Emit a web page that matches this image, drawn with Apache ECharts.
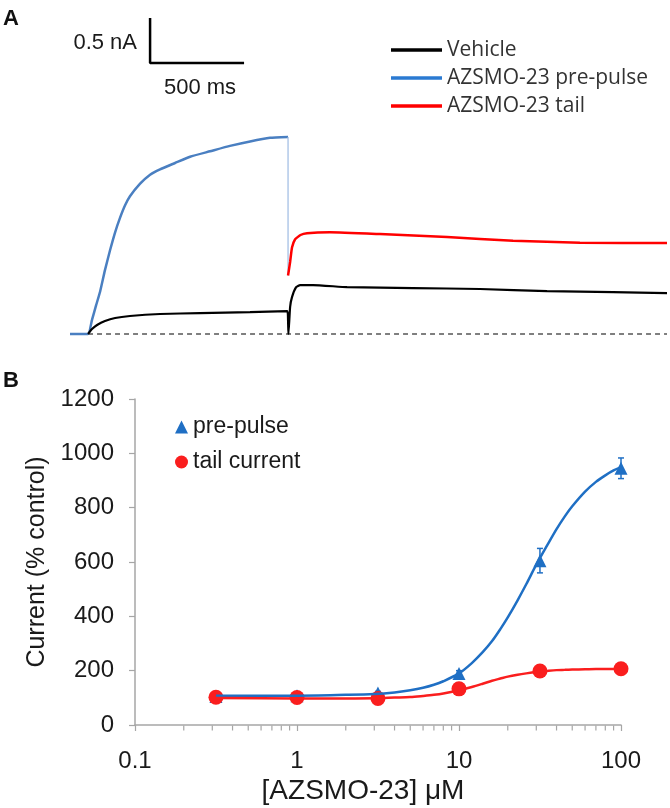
<!DOCTYPE html>
<html><head><meta charset="utf-8">
<script src="https://cdn.jsdelivr.net/npm/echarts@6/dist/echarts.min.js"></script>
<style>html,body{margin:0;padding:0;background:#fff}#c{width:670px;height:808px}</style>
</head><body><div id="c"></div>
<script>
// ---------- Panel A: current traces (time in ms, current in nA) ----------
const vehicleT = [0, 21, 48, 90, 144, 223, 383, 596, 862, 1060, 1064, 1066, 1075, 1085, 1107, 1128, 1197, 1378, 1729, 2085, 2442, 2793, 3080];
const vehicleI = [0, 0.055, 0.1, 0.144, 0.178, 0.2, 0.222, 0.233, 0.244, 0.255, 0.15, 0.0, 0.3, 0.41, 0.52, 0.544, 0.544, 0.52, 0.51, 0.50, 0.477, 0.466, 0.455];
const preT = [-96, 0, 21, 43, 64, 90, 117, 144, 170, 197, 223, 277, 330, 383, 463, 543, 649, 755, 862, 968, 1064];
const preI = [0, 0, 0.156, 0.32, 0.47, 0.71, 0.93, 1.13, 1.29, 1.43, 1.53, 1.67, 1.77, 1.83, 1.90, 1.97, 2.03, 2.09, 2.14, 2.18, 2.19];
const dropT = [1064, 1064];
const dropI = [2.19, 0.65];
const tailT = [1064, 1075, 1085, 1101, 1130, 1165, 1287, 1553, 1910, 2261, 2617, 3080];
const tailI = [0.65, 0.8, 0.96, 1.05, 1.10, 1.12, 1.13, 1.11, 1.077, 1.035, 1.015, 1.01];
const baselineT = [0, 3080];
const scaleBarT0 = 330, scaleBarI0 = 3.01, scaleBarMs = 500, scaleBarNA = 0.5;

// ---------- Panel B: concentration-response ----------
const doses = [0.316, 1, 3.16, 10, 31.6, 100];
const prePulse = [105, 108, 118, 190, 605, 945];
const prePulseErr = [4, 4, 6, 10, 45, 38];
const tailCurrent = [102, 101, 98, 133, 199, 207];
const tailErr = [3, 3, 3, 6, 8, 8];
const fitDoses = [0.316, 1, 2, 3, 4, 5, 6, 7, 8, 10, 12, 14, 16, 18, 20, 23, 26, 30, 35, 40, 45, 50, 60, 70, 80, 90, 100];
const fitPre = [108, 108, 111, 114, 120, 128, 137, 148, 161, 190, 228, 268, 309, 353, 396, 459, 518, 590, 661, 721, 768, 805, 859, 895, 919, 937, 949];
const fitTail = [99, 98, 98, 98.5, 101, 103, 107, 111, 116, 128, 140, 152, 163, 171, 178, 185, 190, 195, 199, 202, 203, 204, 205, 206, 206, 206, 206];
const minorTicks = [0.2,0.3,0.4,0.5,0.6,0.7,0.8,0.9,2,3,4,5,6,7,8,9,20,30,40,50,60,70,80,90];

const zip = (a, b) => a.map((v, i) => [v, b[i]]);
const BLUE = '#1f6fc4', RED = '#fa1e1e';
const TRACE_BLUE = '#4a7fc1';
const txt = '#1a1a1a';
const F = 'Liberation Sans, Arial, sans-serif';

function errBars(color) {
  return function (params, api) {
    const lo = api.coord([api.value(0), api.value(1)]);
    const hi = api.coord([api.value(0), api.value(2)]);
    const w = 3;
    const st = { stroke: color, lineWidth: 1.5 };
    return { type: 'group', children: [
      { type: 'line', shape: { x1: lo[0], y1: lo[1], x2: hi[0], y2: hi[1] }, style: st },
      { type: 'line', shape: { x1: lo[0] - w, y1: lo[1], x2: lo[0] + w, y2: lo[1] }, style: st },
      { type: 'line', shape: { x1: hi[0] - w, y1: hi[1], x2: hi[0] + w, y2: hi[1] }, style: st }
    ]};
  };
}

const chart = echarts.init(document.getElementById('c'), null, { renderer: 'canvas' });
chart.setOption({
  backgroundColor: '#fff',
  animation: false,
  textStyle: { fontFamily: F },
  graphic: [
    { type: 'text', left: 3, top: 8, style: { text: 'A', font: 'bold 22px ' + F, fill: '#111' } },
    { type: 'text', left: 3, top: 370, style: { text: 'B', font: 'bold 22px ' + F, fill: '#111' } },
    { type: 'text', x: 137, y: 43, style: { text: '0.5 nA', font: '22px ' + F, fill: txt, align: 'right', verticalAlign: 'middle' } },
    { type: 'text', x: 200, y: 88, style: { text: '500 ms', font: '22px ' + F, fill: txt, align: 'center', verticalAlign: 'middle' } }
  ],
  legend: [
    {
      orient: 'vertical', left: 386, top: 34, itemGap: 6,
      icon: 'rect', itemWidth: 51, itemHeight: 3.5,
      textStyle: { fontFamily: 'Open Sans', fontSize: 21, color: '#333', lineHeight: 22 },
      data: [
        { name: 'Vehicle', itemStyle: { color: '#000' } },
        { name: 'AZSMO-23 pre-pulse', itemStyle: { color: '#2a7ad2' } },
        { name: 'AZSMO-23 tail', itemStyle: { color: '#ff0000' } }
      ]
    },
    {
      orient: 'vertical', left: 170, top: 410, itemGap: 11,
      itemWidth: 13, itemHeight: 13,
      textStyle: { fontFamily: F, fontSize: 23, color: txt, lineHeight: 24 },
      data: [
        { name: 'pre-pulse', icon: 'triangle' },
        { name: 'tail current', icon: 'circle' }
      ]
    }
  ],
  grid: [
    { left: 70, right: 3, top: 10, height: 333 },
    { left: 135, right: 49, top: 399, bottom: 83 }
  ],
  xAxis: [
    { gridIndex: 0, type: 'value', min: -96, max: 3080, show: false },
    {
      gridIndex: 1, type: 'log', logBase: 10, min: 0.1, max: 100,
      axisLine: { lineStyle: { color: '#a6a6a6', width: 1.5 } },
      axisTick: { show: true, length: 6, lineStyle: { color: '#a6a6a6', width: 1.2 } },
      splitLine: { show: false },
      axisLabel: { fontSize: 24, color: txt, margin: 24, fontFamily: F, formatter: v => String(+(+v).toPrecision(3)) },
      name: '[AZSMO-23] \u03bcM', nameLocation: 'middle', nameGap: 52,
      nameTextStyle: { fontSize: 28, color: txt, fontFamily: F, padding: [0, 30, 0, 0] }
    }
  ],
  yAxis: [
    { gridIndex: 0, type: 'value', min: -0.1, max: 3.6, show: false },
    {
      gridIndex: 1, type: 'value', min: 0, max: 1200, interval: 200,
      axisLine: { show: true, lineStyle: { color: '#a6a6a6', width: 1.5 } },
      axisTick: { show: true, length: 6, lineStyle: { color: '#a6a6a6', width: 1.2 } },
      splitLine: { show: false },
      axisLabel: { fontSize: 24, color: txt, margin: 21, fontFamily: F, formatter: v => String(v) },
      name: 'Current (% control)', nameLocation: 'middle', nameGap: 82,
      nameTextStyle: { fontSize: 25, color: txt, fontFamily: F }
    }
  ],
  series: [
    // Panel A
    { name: 'baseline', type: 'line', xAxisIndex: 0, yAxisIndex: 0, data: zip(baselineT, [0, 0]), symbol: 'none',
      lineStyle: { color: '#555', width: 1.5, type: [5, 4] }, silent: true },
    { name: 'AZSMO-23 pre-pulse', type: 'line', xAxisIndex: 0, yAxisIndex: 0, data: zip(preT, preI), symbol: 'none', smooth: 0.15,
      lineStyle: { color: TRACE_BLUE, width: 2.5 }, itemStyle: { color: TRACE_BLUE } },
    { name: 'drop', type: 'line', xAxisIndex: 0, yAxisIndex: 0, data: zip(dropT, dropI), symbol: 'none',
      lineStyle: { color: '#9dbbe3', width: 1.2 } },
    { name: 'AZSMO-23 tail', type: 'line', xAxisIndex: 0, yAxisIndex: 0, data: zip(tailT, tailI), symbol: 'none', smooth: 0.15,
      lineStyle: { color: '#ff0000', width: 2.5 }, itemStyle: { color: '#ff0000' } },
    { name: 'Vehicle', type: 'line', xAxisIndex: 0, yAxisIndex: 0, data: zip(vehicleT, vehicleI), symbol: 'none', smooth: 0.15,
      lineStyle: { color: '#000', width: 2.2 }, itemStyle: { color: '#000' } },
    { name: 'scalebar', type: 'line', xAxisIndex: 0, yAxisIndex: 0, symbol: 'none',
      data: [[scaleBarT0, scaleBarI0 + scaleBarNA], [scaleBarT0, scaleBarI0], [scaleBarT0 + scaleBarMs, scaleBarI0]],
      lineStyle: { color: '#000', width: 2.5 } },
    // Panel B
    { name: 'minor ticks', type: 'scatter', xAxisIndex: 1, yAxisIndex: 1, data: minorTicks.map(v => [v, 0]),
      symbol: 'rect', symbolSize: [1.2, 5], symbolOffset: [0, 3], itemStyle: { color: '#a6a6a6', opacity: 1 }, clip: false, silent: true },
    { name: 'pre fit', type: 'line', xAxisIndex: 1, yAxisIndex: 1, data: zip(fitDoses, fitPre), symbol: 'none', smooth: 0.3,
      lineStyle: { color: BLUE, width: 2.5 } },
    { name: 'pre err', type: 'custom', xAxisIndex: 1, yAxisIndex: 1,
      data: doses.map((d, i) => [d, prePulse[i] - prePulseErr[i], prePulse[i] + prePulseErr[i]]),
      renderItem: errBars(BLUE), encode: { x: 0, y: [1, 2] } },
    { name: 'pre-pulse', type: 'scatter', xAxisIndex: 1, yAxisIndex: 1, data: zip(doses, prePulse),
      symbol: 'triangle', symbolSize: 13, itemStyle: { color: BLUE, opacity: 1 } },
    { name: 'tail fit', type: 'line', xAxisIndex: 1, yAxisIndex: 1, data: zip(fitDoses, fitTail), symbol: 'none', smooth: 0.3,
      lineStyle: { color: RED, width: 2.5 } },
    { name: 'tail err', type: 'custom', xAxisIndex: 1, yAxisIndex: 1,
      data: doses.map((d, i) => [d, tailCurrent[i] - tailErr[i], tailCurrent[i] + tailErr[i]]),
      renderItem: errBars(RED), encode: { x: 0, y: [1, 2] } },
    { name: 'tail current', type: 'scatter', xAxisIndex: 1, yAxisIndex: 1, data: zip(doses, tailCurrent),
      symbol: 'circle', symbolSize: 15, itemStyle: { color: RED, opacity: 1 } }
  ]
});
</script></body></html>
